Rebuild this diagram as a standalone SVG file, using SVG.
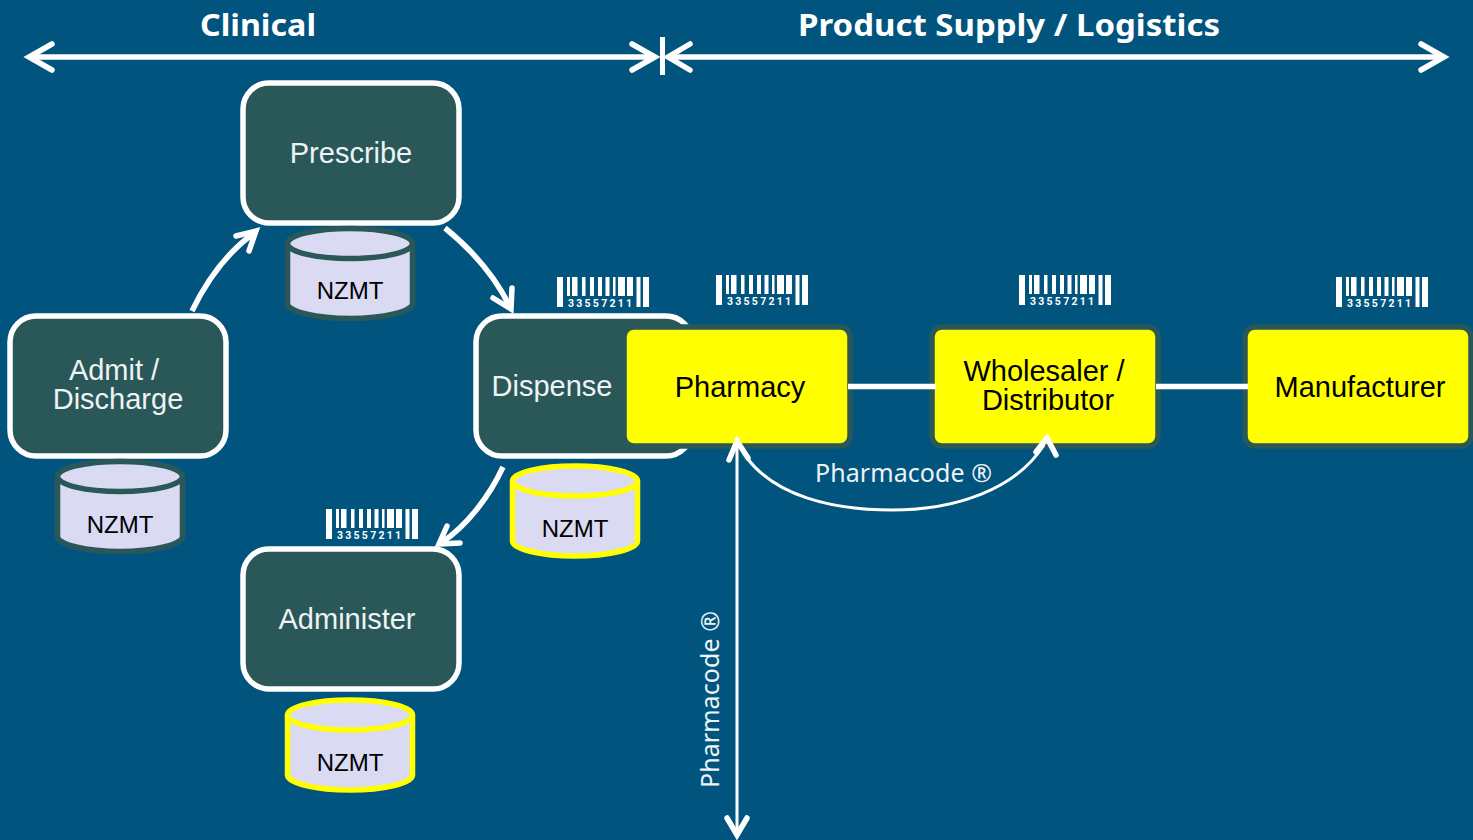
<svg xmlns="http://www.w3.org/2000/svg" width="1473" height="840" viewBox="0 0 1473 840">
<style>
.bg{fill:#00547e}
.clin{fill:#2a5858;stroke:#fff;stroke-width:5.500}
.sup{fill:#ff0;stroke:#2a5858;stroke-width:5.500}
.lbl{font-family:"Liberation Sans",Arial,sans-serif;font-size:29px;text-anchor:middle}
.w{fill:#eef3f5}
.k{fill:#000}
.nz{font-family:"Liberation Sans",Arial,sans-serif;font-size:24px;text-anchor:middle;fill:#000}
.head{font-family:"Noto Sans","DejaVu Sans",sans-serif;font-size:31px;font-weight:bold;fill:#fff}
.ph{font-family:"Noto Sans","DejaVu Sans",sans-serif;font-size:25px;fill:#eef3f5}
.bcn{font-family:Roboto,"Liberation Sans",sans-serif;font-size:10.500px;font-weight:bold;fill:#fff}
.line{fill:none;stroke:#fff;stroke-width:5.500}
.thin{fill:none;stroke:#fff;stroke-width:3}
.head5{fill:none;stroke:#fff;stroke-width:5.500;stroke-linecap:round;stroke-linejoin:miter}
.cyl{fill:#dadaf2;stroke-width:5.500}
</style>
<defs>
<g id="bars" fill="#fff">
<rect x="0" y="0" width="6" height="30"/>
<rect x="10" y="0" width="3" height="19"/>
<rect x="15" y="0" width="5.500" height="19"/>
<rect x="25" y="0" width="3.500" height="19"/>
<rect x="33" y="0" width="4" height="19"/>
<rect x="41" y="0" width="4" height="19"/>
<rect x="48.500" y="0" width="4" height="19"/>
<rect x="56" y="0" width="2.500" height="19"/>
<rect x="61" y="0" width="7" height="19"/>
<rect x="70" y="0" width="6" height="19"/>
<rect x="79.500" y="0" width="4" height="30"/>
<rect x="86" y="0" width="6" height="30"/>
</g>
<g id="can">
<path class="cyl" d="M-62.500 -30V30C-62.500 38 -34 45 0 45S62.500 38 62.500 30V-30"/>
<ellipse class="cyl" cx="0" cy="-30" rx="62.500" ry="15"/>
</g>
</defs>
<rect class="bg" width="1473" height="840"/>

<g id="header-clinical"><text class="head" x="200" y="36" textLength="116" lengthAdjust="spacingAndGlyphs">Clinical</text></g>
<g id="header-supply"><text class="head" x="798" y="36" textLength="422" lengthAdjust="spacingAndGlyphs">Product Supply / Logistics</text></g>

<g id="node-prescribe"><rect class="clin" x="243" y="83" width="216" height="140" rx="26"/><text class="lbl w" x="351" y="163">Prescribe</text></g>
<g id="node-admit"><rect class="clin" x="10" y="316" width="216" height="140" rx="26"/><text class="lbl w" x="114" y="380">Admit /</text><text class="lbl w" x="118" y="409">Discharge</text></g>
<g id="node-dispense"><rect class="clin" x="476" y="316" width="216" height="140" rx="26"/><text class="lbl w" x="552" y="396">Dispense</text></g>
<g id="node-administer"><rect class="clin" x="243" y="549" width="216" height="140" rx="26"/><text class="lbl w" x="347" y="629">Administer</text></g>

<g id="node-pharmacy"><rect class="sup" x="624" y="327" width="226" height="119" rx="10"/><text class="lbl k" x="740" y="397">Pharmacy</text></g>
<g id="node-wholesaler"><rect class="sup" x="932" y="327" width="226" height="119" rx="10"/><text class="lbl k" x="1044" y="381">Wholesaler /</text><text class="lbl k" x="1048" y="410">Distributor</text></g>
<g id="node-manufacturer"><rect class="sup" x="1245" y="327" width="226" height="119" rx="10"/><text class="lbl k" x="1360" y="397">Manufacturer</text></g>

<g id="connectors">
<path class="line" d="M30 57H655"/>
<path class="head5" d="M52 44L29 57L52 70M632 44L655 57L632 70"/>
<rect x="660" y="37" width="5" height="38" fill="#fff"/>
<path class="line" d="M669 57H1444"/>
<path class="head5" d="M690 44L668 57L690 70M1421 44L1444 57L1421 70"/>
<path class="line" d="M192 311C205 284 225 254 254 233"/>
<path class="head5" d="M236 236L256 231L249 251"/>
<path class="line" d="M445 228C472 250 495 276 510 307"/>
<path class="head5" d="M493 298L511 309L512 288"/>
<path class="line" d="M503 467C490 495 468 525 441 543"/>
<path class="head5" d="M447 526L439 544L460 543"/>
<path class="line" d="M848 386.500H936M1156 386.500H1248"/>
<path class="thin" d="M737 445V834"/>
<path class="head5" d="M729 460L737 441L748 458M727 818L737 835L747 818"/>
<path class="thin" d="M747 458C775 495 830 510 892 510C955 510 1015 490 1044 445"/>
<path class="head5" d="M1036 452L1047 438L1056 455"/>
</g>

<g id="db-prescribe"><use href="#can" x="350" y="273.500" stroke="#2a5858"/><text class="nz" x="350" y="299">NZMT</text></g>
<g id="db-admit"><use href="#can" x="120" y="506.500" stroke="#2a5858"/><text class="nz" x="120" y="533">NZMT</text></g>
<g id="db-dispense"><use href="#can" x="575" y="511" stroke="#ff0"/><text class="nz" x="575" y="537">NZMT</text></g>
<g id="db-administer"><use href="#can" x="350" y="745" stroke="#ff0"/><text class="nz" x="350" y="771">NZMT</text></g>

<g id="barcode-dispense"><use href="#bars" x="557" y="277"/><text class="bcn" x="568" y="307" textLength="64">33557211</text></g>
<g id="barcode-pharmacy"><use href="#bars" x="716" y="275"/><text class="bcn" x="727" y="305" textLength="64">33557211</text></g>
<g id="barcode-wholesaler"><use href="#bars" x="1019" y="275"/><text class="bcn" x="1030" y="305" textLength="64">33557211</text></g>
<g id="barcode-manufacturer"><use href="#bars" x="1336" y="277"/><text class="bcn" x="1347" y="307" textLength="64">33557211</text></g>
<g id="barcode-administer"><use href="#bars" x="326" y="509"/><text class="bcn" x="337" y="539" textLength="64">33557211</text></g>

<g id="label-pharmacode-h"><text class="ph" x="815" y="482" textLength="177">Pharmacode ®</text></g>
<g id="label-pharmacode-v"><text class="ph" transform="translate(719 788) rotate(-90)" textLength="177">Pharmacode ®</text></g>
</svg>
